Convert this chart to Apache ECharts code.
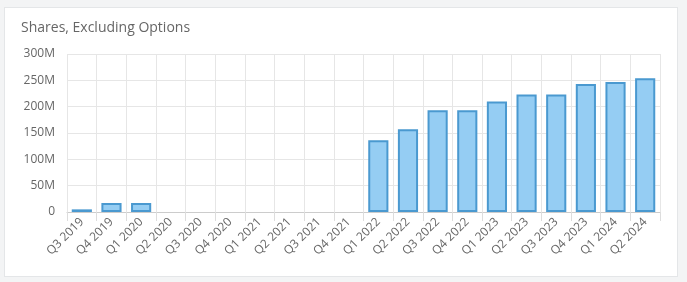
<!DOCTYPE html>
<html>
<head>
<meta charset="utf-8">
<script src="https://cdn.jsdelivr.net/npm/echarts@6/dist/echarts.min.js"></script>
<style>
html,body{margin:0;padding:0;background:#f3f4f5;width:687px;height:282px;overflow:hidden;}
#panel{position:absolute;left:4px;top:7px;width:672px;height:268px;background:#fff;border:1px solid #e4e6e8;}
#chart{position:absolute;left:0;top:0;width:687px;height:282px;}
</style>
</head>
<body>
<div id="panel"></div>
<div id="chart"></div>
<script>
const categories = ['Q3 2019','Q4 2019','Q1 2020','Q2 2020','Q3 2020','Q4 2020','Q1 2021','Q2 2021','Q3 2021','Q4 2021','Q1 2022','Q2 2022','Q3 2022','Q4 2022','Q1 2023','Q2 2023','Q3 2023','Q4 2023','Q1 2024','Q2 2024'];
const shares = [5, 17, 17, null, null, null, null, null, null, null, 136, 157, 193, 193, 210, 223, 223, 243, 247, 254];
const yTicks = [0, 50, 100, 150, 200, 250, 300];

const chart = echarts.init(document.getElementById('chart'));
chart.setOption({
  animation: false,
  title: {
    text: 'Shares, Excluding Options',
    left: 16, top: 16,
    textStyle: {fontFamily: 'Open Sans', fontSize: 14, fontWeight: 'normal', color: '#666'}
  },
  grid: {left: 67, right: 27, top: 54, bottom: 70},
  xAxis: {
    type: 'category',
    data: categories,
    axisLine: {lineStyle: {color: '#ccc'}},
    axisTick: {show: true, length: 9, lineStyle: {color: '#ddd'}},
    splitLine: {show: true, lineStyle: {color: '#e6e6e6'}},
    axisLabel: {rotate: 45, margin: 8, fontFamily: 'Open Sans', fontSize: 12, color: '#666', interval: 0}
  },
  yAxis: {
    type: 'value',
    min: yTicks[0], max: yTicks[yTicks.length - 1], interval: 50,
    axisLine: {show: false},
    axisTick: {show: false},
    splitLine: {lineStyle: {color: '#e6e6e6'}},
    axisLabel: {fontFamily: 'Open Sans', fontSize: 12, color: '#666', margin: 12,
      formatter: v => v === 0 ? '0' : v + 'M'}
  },
  series: [{
    type: 'bar',
    data: shares,
    barWidth: '68%',
    itemStyle: {color: '#95cdf3', borderColor: '#4a99d0', borderWidth: 2}
  }]
});
</script>
</body>
</html>
